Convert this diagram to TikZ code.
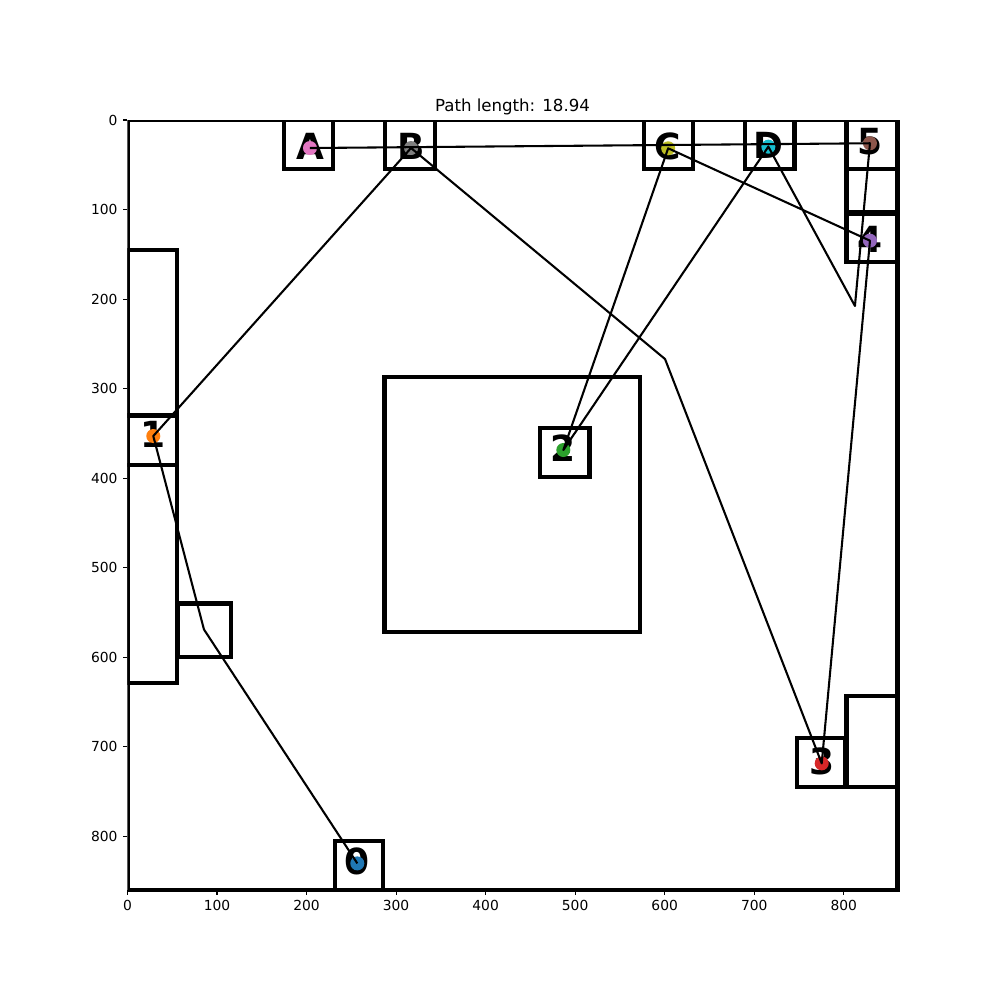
\documentclass[tikz,border=0pt]{standalone}
\usepackage{fontspec}
\setmainfont{DejaVu Sans}
\usetikzlibrary{positioning}
\definecolor{tabblue}{HTML}{1F77B4}
\definecolor{taborange}{HTML}{FF7F0E}
\definecolor{tabgreen}{HTML}{2CA02C}
\definecolor{tabred}{HTML}{D62728}
\definecolor{tabpurple}{HTML}{9467BD}
\definecolor{tabbrown}{HTML}{8C564B}
\definecolor{tabpink}{HTML}{E377C2}
\definecolor{tabgray}{HTML}{7F7F7F}
\definecolor{tabolive}{HTML}{BCBD22}
\definecolor{tabcyan}{HTML}{17BECF}

\begin{document}
\begin{tikzpicture}[
  x=0.022741cm, y=-0.022741cm,
  box/.style={draw, line width=3pt},
  spot/.style={circle, fill=#1, inner sep=0pt, minimum size=0.356cm},
  tag/.style={font=\fontsize{26}{26}\selectfont\bfseries, inner sep=0pt},
  route/.style={line width=1.5pt, line join=round},
  tick/.style={line width=0.8pt},
  ticklabel/.style={font=\fontsize{10}{12}\selectfont, inner sep=0pt},
]
  \useasboundingbox (-142.41,-134.03) rectangle (974.53,982.91);

  % obstacles and walls
  \begin{scope}
    \clip (0,0) rectangle (900,900);
    \draw[box] (0,0) rectangle (860,860);
    \draw[box] (175,0) rectangle (230,55);
    \draw[box] (288,0) rectangle (343,55);
    \draw[box] (577,0) rectangle (632,55);
    \draw[box] (690,0) rectangle (745,55);
    \draw[box] (803,0) rectangle (860,55);
    \draw[box] (803,55) rectangle (860,103);
    \draw[box] (803,105) rectangle (860,159);
    \draw[box] (0,145) rectangle (55,330);
    \draw[box] (0,330) rectangle (55,385);
    \draw[box] (0,385) rectangle (55,629);
    \draw[box] (56,540) rectangle (116,600);
    \draw[box] (287,287) rectangle (572,572);
    \draw[box] (461,344) rectangle (516,399);
    \draw[box] (748,690) rectangle (802,745);
    \draw[box] (803,643) rectangle (860,745);
    \draw[box] (232,805) rectangle (285,860);
  \end{scope}

  % axes ticks
  \foreach \v in {0,100,...,800} {
    \draw[tick] (\v,860) -- (\v,865.43);
    \node[ticklabel, anchor=north] (xt\v) at (\v,870.86) {\v};
    \draw[tick] (0,\v) -- (-5.43,\v);
    \node[ticklabel, anchor=east] (yt\v) at (-10.86,\v) {\v};
  }
  \node[anchor=base, font=\fontsize{12}{14}\selectfont, inner sep=0pt] (title) at (430,-9.3) {Path length: 18.94};

  % stops
  \foreach \name/\px/\py/\col in {0/256.7/830.3/tabblue, 1/28.8/353/taborange,
      2/486.8/368.6/tabgreen, 3/775.4/718.6/tabred, 4/829.3/134.8/tabpurple,
      5/829.3/26/tabbrown, A/203.8/31.3/tabpink, B/316.7/31.3/tabgray,
      C/603.9/31.6/tabolive, D/715.8/29.8/tabcyan} {
    \node[tag] (tag\name) at (\px,\py-2) {\name};
    \node[spot=\col] (dot\name) at (\px,\py) {};
  }

  \coordinate (bend1) at (85.4,569);
  \coordinate (bend2) at (600.4,267);
  \coordinate (bend3) at (812.5,207.7);

  \draw[route] (dot0.center) -- (bend1) -- (dot1.center) -- (dotB.center) -- (bend2)
    -- (dot3.center) -- (dot4.center) -- (dotC.center) -- (dot2.center)
    -- (dotD.center) -- (bend3) -- (dot5.center) -- (dotA.center);
\end{tikzpicture}
\end{document}
